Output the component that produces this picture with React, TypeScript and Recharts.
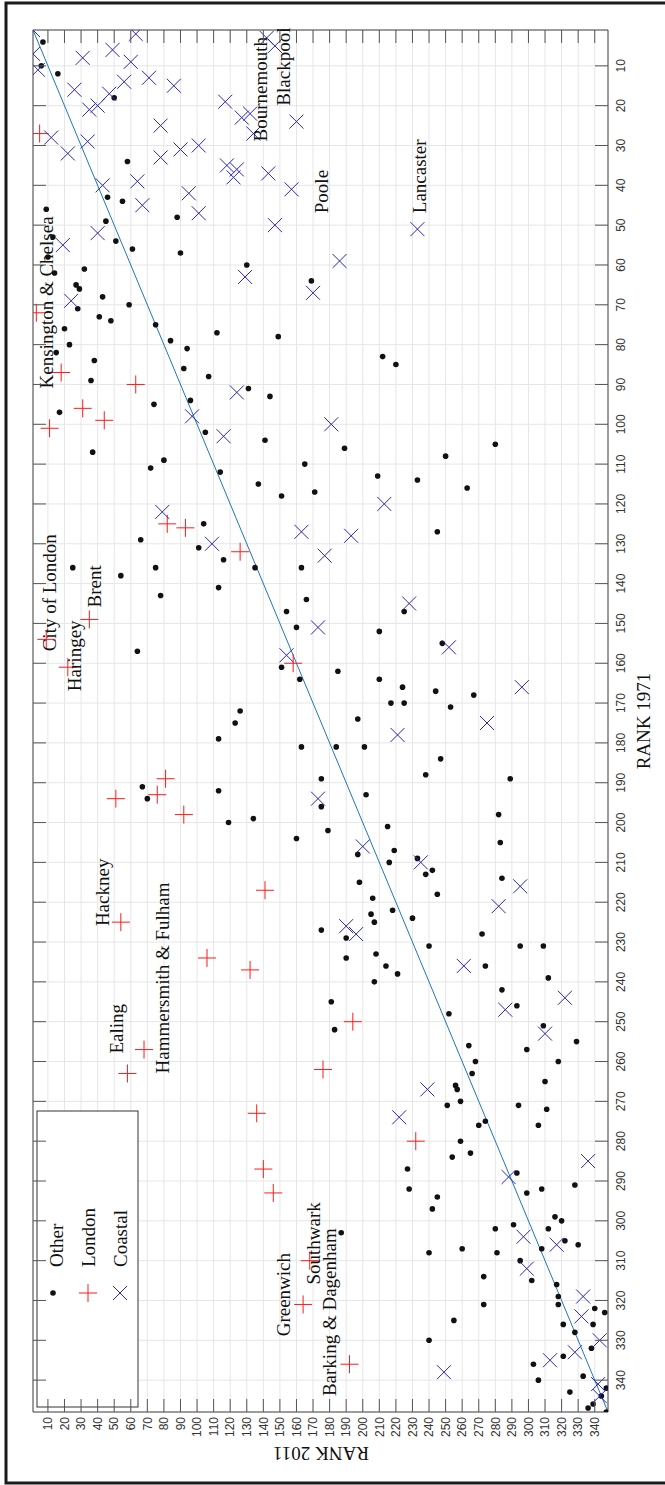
import { ScatterChart, Scatter, XAxis, YAxis, CartesianGrid, ReferenceLine, ReferenceDot } from 'recharts';

// [rank 2011, rank 1971]
const otherPoints: [number, number][] = [
  [7, 4], [6, 10], [16, 12], [50, 18], [58, 34], [46, 43], [55, 44], [9, 46], [45, 49], [13, 53],
  [51, 54], [61, 56], [10, 58], [32, 61], [14, 62], [27, 65], [29, 66], [43, 68], [59, 70], [28, 71],
  [41, 73], [48, 74], [75, 75], [20, 76], [23, 80], [15, 82], [38, 84], [36, 89], [17, 97], [74, 95],
  [37, 107], [72, 111], [88, 48], [90, 57], [130, 60], [169, 64], [84, 79], [94, 81], [112, 77], [149, 78],
  [92, 86], [107, 88], [96, 94], [131, 91], [144, 93], [105, 102], [141, 104], [80, 109], [114, 112], [165, 110],
  [137, 115], [151, 118], [171, 117], [212, 83], [220, 85], [189, 106], [209, 113], [233, 114], [250, 108], [263, 116],
  [280, 105], [245, 127], [54, 138], [66, 129], [75, 136], [78, 143], [25, 136], [101, 131], [104, 125], [113, 141],
  [116, 134], [135, 136], [163, 136], [154, 147], [160, 151], [166, 144], [210, 152], [225, 147], [248, 155], [64, 157],
  [151, 161], [162, 164], [185, 162], [210, 164], [217, 170], [224, 166], [225, 170], [244, 167], [253, 171], [267, 168],
  [197, 174], [123, 175], [126, 172], [184, 181], [201, 181], [163, 181], [247, 184], [238, 188], [113, 179], [175, 189],
  [202, 193], [70, 194], [67, 191], [113, 192], [289, 189], [175, 196], [119, 200], [134, 199], [160, 204], [179, 202],
  [215, 201], [282, 198], [283, 205], [284, 214], [197, 208], [216, 210], [219, 207], [233, 209], [238, 213], [242, 212],
  [245, 218], [198, 215], [206, 219], [205, 223], [218, 222], [230, 224], [207, 225], [175, 227], [190, 229], [190, 234],
  [208, 233], [214, 236], [221, 238], [207, 240], [181, 245], [183, 252], [240, 231], [272, 228], [274, 236], [309, 231],
  [312, 239], [295, 231], [284, 242], [293, 246], [309, 251], [252, 248], [329, 255], [264, 256], [268, 260], [266, 263],
  [318, 260], [299, 257], [310, 265], [311, 272], [256, 266], [257, 267], [259, 270], [251, 271], [270, 276], [274, 275],
  [294, 271], [306, 276], [259, 280], [254, 284], [265, 283], [245, 294], [293, 288], [299, 293], [328, 291], [308, 292],
  [228, 292], [227, 287], [242, 297], [187, 303], [240, 308], [260, 307], [273, 314], [281, 308], [280, 302], [291, 301],
  [295, 310], [302, 315], [308, 307], [316, 299], [312, 302], [320, 300], [322, 305], [330, 306], [317, 316], [318, 319],
  [318, 321], [321, 326], [328, 328], [339, 326], [340, 322], [346, 323], [240, 330], [255, 325], [273, 321], [303, 336],
  [306, 340], [321, 334], [338, 332], [333, 339], [347, 342], [325, 343], [336, 347], [339, 346], [344, 344], [347, 348],
];

const londonPoints: [number, number][] = [
  [5, 27], [3, 72], [18, 87], [63, 90], [31, 96], [44, 99], [11, 101], [82, 125], [93, 126], [126, 132],
  [35, 149], [9, 154], [22, 161], [158, 160], [81, 189], [76, 193], [51, 194], [92, 198], [141, 217], [54, 225],
  [106, 234], [132, 237], [194, 250], [68, 257], [58, 263], [176, 262], [136, 273], [232, 280], [140, 287], [146, 293],
  [168, 310], [164, 321], [192, 336],
];

const coastalPoints: [number, number][] = [
  [1, 1], [1, 7], [4, 11], [31, 8], [49, 6], [63, 2], [60, 9], [71, 13], [86, 15], [56, 14],
  [26, 16], [47, 17], [35, 21], [40, 20], [12, 28], [22, 32], [34, 29], [78, 25], [78, 33], [43, 40],
  [64, 39], [67, 45], [40, 52], [19, 55], [24, 69], [90, 31], [101, 30], [117, 19], [127, 23], [132, 22],
  [134, 27], [160, 24], [142, 3], [147, 5], [118, 35], [124, 36], [122, 38], [143, 37], [157, 41], [95, 42],
  [101, 47], [147, 50], [129, 63], [170, 67], [124, 92], [97, 98], [116, 103], [233, 51], [186, 59], [181, 100],
  [213, 120], [109, 130], [79, 122], [163, 127], [177, 133], [193, 128], [228, 145], [252, 156], [296, 166], [154, 158],
  [173, 151], [275, 175], [221, 178], [173, 194], [200, 206], [190, 226], [196, 228], [235, 210], [261, 236], [295, 216],
  [282, 221], [286, 247], [310, 253], [322, 244], [222, 274], [239, 267], [288, 289], [297, 304], [317, 306], [299, 312],
  [336, 285], [332, 324], [343, 330], [328, 333], [313, 335], [249, 338], [342, 341], [343, 344], [333, 319],
];

const annotations = [
  { name: 'Kensington & Chelsea', r2011: 9, r1971: 91 },
  { name: 'City of London', r2011: 11, r1971: 157 },
  { name: 'Brent', r2011: 38, r1971: 146 },
  { name: 'Haringey', r2011: 26, r1971: 167 },
  { name: 'Hackney', r2011: 43, r1971: 226 },
  { name: 'Hammersmith & Fulham', r2011: 79, r1971: 263 },
  { name: 'Ealing', r2011: 51, r1971: 258 },
  { name: 'Greenwich', r2011: 152, r1971: 329 },
  { name: 'Southwark', r2011: 170, r1971: 316 },
  { name: 'Barking & Dagenham', r2011: 180, r1971: 344 },
  { name: 'Bournemouth', r2011: 138, r1971: 29 },
  { name: 'Blackpool', r2011: 152, r1971: 20 },
  { name: 'Poole', r2011: 175, r1971: 47 },
  { name: 'Lancaster', r2011: 234, r1971: 47 },
];

const rankTicks = [10, 20, 30, 40, 50, 60, 70, 80, 90, 100, 110, 120, 130, 140, 150, 160, 170,
  180, 190, 200, 210, 220, 230, 240, 250, 260, 270, 280, 290, 300, 310, 320, 330, 340];

const toRows = (pts: [number, number][]) => pts.map(([a, b]) => ({ r2011: a, r1971: b }));

const PLOT = { left: 33, top: 30, right: 608, bottom: 1412 };
const SERIF = '"Liberation Serif", "Times New Roman", serif';
const SANS = '"Liberation Sans", Arial, Helvetica, sans-serif';
const RED = '#ff1a1a';
const BLUE = '#2626b8';

const Dot = ({ cx, cy }: any) => <circle cx={cx} cy={cy} r={2.8} fill="#111" />;
const Plus = ({ cx, cy }: any) => (
  <g stroke={RED} strokeWidth={1}>
    <line x1={cx - 9} y1={cy} x2={cx + 9} y2={cy} />
    <line x1={cx} y1={cy - 9} x2={cx} y2={cy + 9} />
  </g>
);
const Cross = ({ cx, cy }: any) => (
  <g stroke={BLUE} strokeWidth={1}>
    <line x1={cx - 7} y1={cy - 7} x2={cx + 7} y2={cy + 7} />
    <line x1={cx - 7} y1={cy + 7} x2={cx + 7} y2={cy - 7} />
  </g>
);

const BottomTick = ({ x, payload }: any) => (
  <g>
    <line x1={x} y1={PLOT.bottom} x2={x} y2={PLOT.bottom - 13} stroke="#555" />
    <line x1={x} y1={PLOT.top} x2={x} y2={PLOT.top + 13} stroke="#555" />
    <text x={x} y={1417} dy="0.35em" transform={`rotate(-90 ${x} 1417)`} textAnchor="end"
      fontSize={12} fontFamily={SANS} fill="#333">{payload.value}</text>
  </g>
);

const RightTick = ({ y, payload }: any) => (
  <g>
    <line x1={PLOT.right} y1={y} x2={PLOT.right - 13} y2={y} stroke="#555" />
    <line x1={PLOT.left} y1={y} x2={PLOT.left + 13} y2={y} stroke="#555" />
    <text x={621} y={y} dy="0.35em" transform={`rotate(-90 621 ${y})`} textAnchor="middle"
      fontSize={12} fontFamily={SANS} fill="#333">{payload.value}</text>
  </g>
);

const LabelShape = (name: string) => ({ cx, cy }: any) => (
  <text x={cx} y={cy} dy="0.35em" transform={`rotate(-90 ${cx} ${cy})`} textAnchor="start"
    fontSize={19} fontFamily={SERIF} fill="#111">{name}</text>
);

const LegendBox = () => (
  <g>
    <rect x={37} y={1111} width={101} height={296} fill="#fff" stroke="#333" strokeWidth={1} />
    <Dot cx={53} cy={1293} />
    <Plus cx={88} cy={1293} />
    <Cross cx={120} cy={1293} />
    {[['Other', 63], ['London', 95], ['Coastal', 127]].map(([t, bx]) => (
      <text key={t as string} x={bx} y={1267} transform={`rotate(-90 ${bx} 1267)`} fontSize={19}
        fontFamily={SERIF} fill="#111">{t}</text>
    ))}
  </g>
);

const App = () => (
  <div style={{ position: 'absolute', left: 0, top: 0, width: 665, height: 1485, background: '#fff' }}>
    <ScatterChart width={665} height={1485} margin={{ top: 30, left: 33, right: 37, bottom: 43 }}>
      <CartesianGrid stroke="#e6e6e6" />
      <XAxis type="number" dataKey="r2011" domain={[1, 348]} ticks={rankTicks} allowDataOverflow
        height={30} axisLine={{ stroke: '#444' }} tickLine={false} tick={<BottomTick />} interval={0} />
      <YAxis type="number" dataKey="r1971" domain={[1, 348]} ticks={rankTicks} allowDataOverflow reversed
        orientation="right" width={20} axisLine={{ stroke: '#444' }} tickLine={false} tick={<RightTick />} interval={0} />
      <ReferenceLine x={1} stroke="#444" />
      <ReferenceLine y={1} stroke="#444" />
      <ReferenceLine segment={[{ x: 1, y: 1 }, { x: 348, y: 348 }]} stroke="#1f77b8" strokeWidth={1} />
      <Scatter name="Other" data={toRows(otherPoints)} shape={<Dot />} isAnimationActive={false} />
      <Scatter name="London" data={toRows(londonPoints)} shape={<Plus />} isAnimationActive={false} />
      <Scatter name="Coastal" data={toRows(coastalPoints)} shape={<Cross />} isAnimationActive={false} />
      {annotations.map((a) => (
        <ReferenceDot key={a.name} x={a.r2011} y={a.r1971} r={0} ifOverflow="visible" shape={LabelShape(a.name)} />
      ))}
      <LegendBox />
      <text x={650} y={721} transform="rotate(-90 650 721)" textAnchor="middle" fontSize={19}
        fontFamily={SERIF} fill="#111">RANK 1971</text>
      <text x={321} y={1447} transform="rotate(180 321 1447)" textAnchor="middle" fontSize={19}
        fontFamily={SERIF} fill="#111">RANK 2011</text>
      <rect x={6} y={3} width={670} height={1480} fill="none" stroke="#1a1a1a" strokeWidth={3} />
    </ScatterChart>
  </div>
);

export default App;
